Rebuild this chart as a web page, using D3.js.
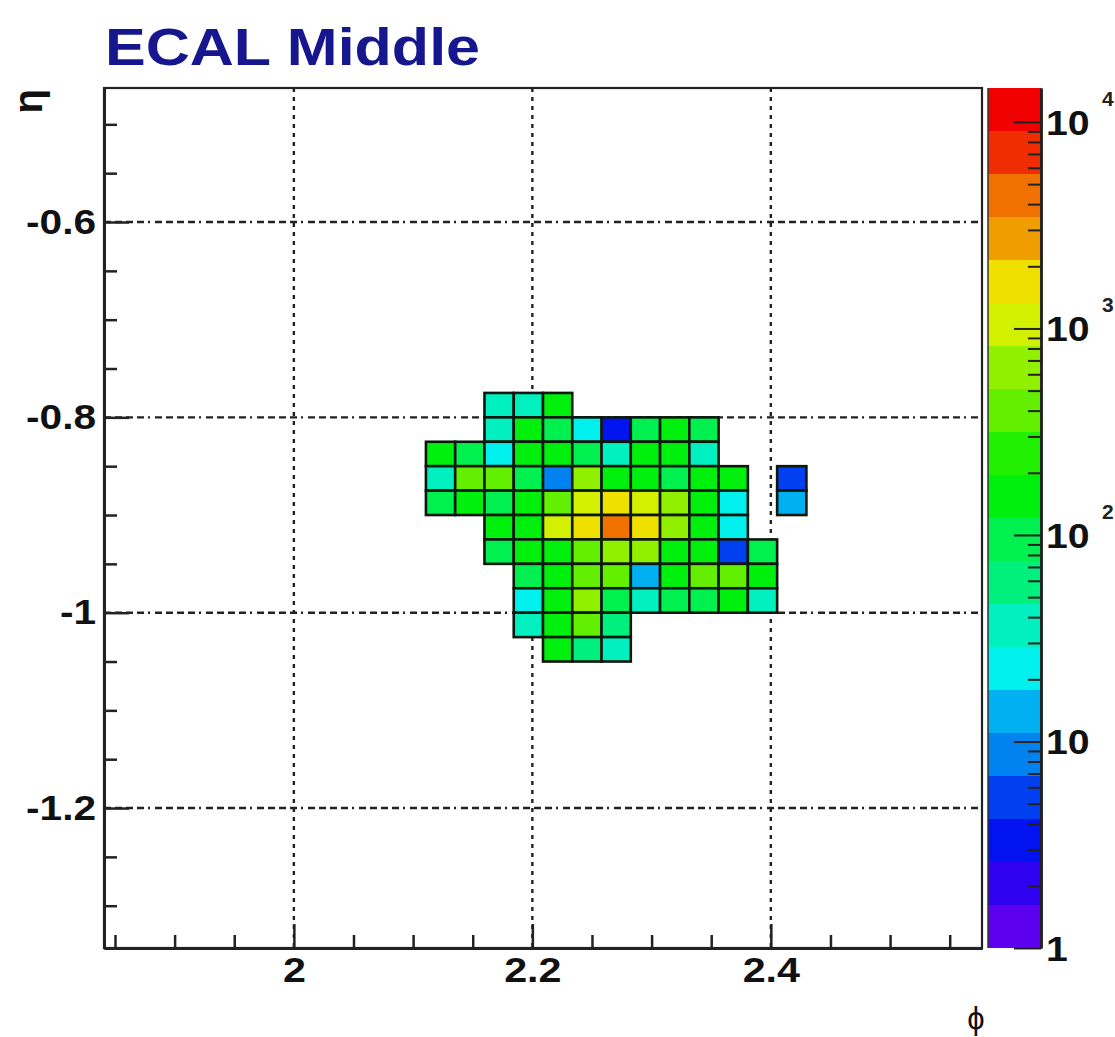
<!DOCTYPE html>
<html>
<head>
<meta charset="utf-8">
<script src="https://cdn.jsdelivr.net/npm/d3@7"></script>
<style>
  body { margin: 0; background: #ffffff; }
  text { font-family: "Liberation Sans", Arial, Helvetica, sans-serif; }
</style>
</head>
<body>
<svg id="chart" width="1115" height="1037"></svg>
<script>
// ECAL middle layer: cell contents binned in eta (rows) and phi (columns)
const PHI_BIN = 2 * Math.PI / 256;
const ETA_BIN = 0.025;

// upper eta edge of every row of cells
const rowEtaTop = [-0.775, -0.8, -0.825, -0.85, -0.875, -0.9, -0.925, -0.95, -0.975, -1.0, -1.025];
// phi-bin index of the first cell of each row
const rowFirstPhiBin = [88, 88, 86, 86, 86, 88, 88, 89, 89, 89, 90];
// contents of consecutive phi bins in each row (null = empty bin)
const rowCounts = [
  [36, 33, 150],
  [38, 165, 92, 22, 3.4, 85, 145, 80],
  [140, 100, 21, 170, 180, 90, 35, 155, 175, 40],
  [34, 420, 350, 105, 8.5, 600, 185, 150, 95, 160, 135, null, 5.2],
  [78, 150, 88, 180, 380, 1000, 1700, 1150, 650, 175, 24, null, 14],
  [190, 170, 1050, 1900, 4400, 1600, 640, 185, 27],
  [100, 190, 185, 430, 560, 540, 188, 180, 5.5, 82],
  [95, 165, 380, 420, 13, 150, 350, 400, 145],
  [23, 175, 620, 85, 38, 78, 110, 190, 40],
  [36, 160, 330, 70],
  [145, 60, 37]
];

// axis ticks and labels
const phiMajorTicks = [2.0, 2.2, 2.4];
const phiTickLabels = ["2", "2.2", "2.4"];
const etaMajorTicks = [-0.6, -0.8, -1.0, -1.2];
const etaTickLabels = ["-0.6", "-0.8", "-1", "-1.2"];
const zMajorTicks = [1, 10, 100, 1000, 10000];
const zTickExponents = [null, null, "2", "3", "4"];
const Z_MIN = 1;
const Z_MAX = 14600;
const N_CONTOURS = 20;
const N_PALETTE = 50;

// flatten rows into cells
const cells = [];
rowCounts.forEach((row, r) => {
  row.forEach((v, k) => {
    if (v == null) return;
    const bin = rowFirstPhiBin[r] + k;
    cells.push({
      phi0: bin * PHI_BIN, phi1: (bin + 1) * PHI_BIN,
      eta1: rowEtaTop[r], eta0: rowEtaTop[r] - ETA_BIN,
      value: v
    });
  });
});

const svg = d3.select("#chart");
const W = 1115, H = 1037;
svg.append("rect").attr("width", W).attr("height", H).attr("fill", "#ffffff");

const frame = { left: 104, right: 982, top: 88, bottom: 948 };
const x = d3.scaleLinear().domain([75 * PHI_BIN, 105 * PHI_BIN]).range([frame.left, frame.right]);
const y = d3.scaleLinear().domain([-1.3433, -0.4628]).range([frame.bottom, frame.top]);
const z = d3.scaleLog().domain([Z_MIN, Z_MAX]).range([frame.bottom, frame.top]);

// rainbow palette (violet -> red), sampled per contour band
function bandColor(j) {
  const i = Math.floor((j + 0.99) * N_PALETTE / N_CONTOURS);
  const hue = 280 - (i + 1) * (280 / N_PALETTE);
  return d3.hsl(hue, 1, 0.47).toString();
}
function valueColor(v) {
  let j = Math.floor(N_CONTOURS * Math.log10(v / Z_MIN) / Math.log10(Z_MAX / Z_MIN));
  j = Math.max(0, Math.min(N_CONTOURS - 1, j));
  return bandColor(j);
}

// widen bold labels a little
function widen(sel, factor) {
  sel.each(function () {
    const w = this.getComputedTextLength();
    d3.select(this).attr("textLength", w * factor).attr("lengthAdjust", "spacingAndGlyphs");
  });
}

// title
svg.append("text")
  .attr("x", 105).attr("y", 65)
  .attr("font-size", 51).attr("font-weight", "bold")
  .attr("fill", "#16168f")
  .attr("textLength", 375).attr("lengthAdjust", "spacingAndGlyphs")
  .text("ECAL Middle");

// grid
const grid = svg.append("g").attr("class", "grid");
grid.selectAll("line.h").data(etaMajorTicks).join("line")
  .attr("class", "h")
  .attr("x1", frame.left).attr("x2", frame.right)
  .attr("y1", d => y(d)).attr("y2", d => y(d))
  .attr("stroke", "#222").attr("stroke-width", 2.4)
  .attr("stroke-dasharray", "7,4,7,4,7,4,7,4,2,5");
grid.selectAll("line.v").data(phiMajorTicks).join("line")
  .attr("class", "v")
  .attr("x1", d => x(d)).attr("x2", d => x(d))
  .attr("y1", frame.top).attr("y2", frame.bottom)
  .attr("stroke", "#222").attr("stroke-width", 2.4)
  .attr("stroke-dasharray", "4,5");

// cells
svg.append("g").attr("class", "cells")
  .selectAll("rect").data(cells).join("rect")
  .attr("x", d => x(d.phi0))
  .attr("y", d => y(d.eta1))
  .attr("width", d => x(d.phi1) - x(d.phi0))
  .attr("height", d => y(d.eta0) - y(d.eta1))
  .attr("fill", d => valueColor(d.value))
  .attr("stroke", "#0c180c").attr("stroke-width", 2.6);

// frame
svg.append("rect")
  .attr("x", frame.left).attr("y", frame.top)
  .attr("width", frame.right - frame.left).attr("height", frame.bottom - frame.top)
  .attr("fill", "none").attr("stroke", "#222").attr("stroke-width", 2.2);

const tickFont = 35;

// x axis
const phiMinor = d3.range(37, 52).map(k => k * 0.05).filter(v => !phiMajorTicks.some(m => Math.abs(m - v) < 1e-9));
const xMinor = svg.append("g").attr("transform", `translate(0,${frame.bottom})`)
  .call(d3.axisBottom(x).tickValues(phiMinor).tickSize(-13).tickSizeOuter(0).tickFormat(""));
const xMajor = svg.append("g").attr("transform", `translate(0,${frame.bottom})`)
  .call(d3.axisBottom(x).tickValues(phiMajorTicks).tickSize(-24).tickSizeOuter(0).tickPadding(9)
    .tickFormat((d, i) => phiTickLabels[i]));

// y axis
const etaMinor = d3.range(-26, -9).map(k => k * 0.05).filter(v => !etaMajorTicks.some(m => Math.abs(m - v) < 1e-9));
const yMinor = svg.append("g").attr("transform", `translate(${frame.left},0)`)
  .call(d3.axisLeft(y).tickValues(etaMinor).tickSize(-13).tickSizeOuter(0).tickFormat(""));
const yMajor = svg.append("g").attr("transform", `translate(${frame.left},0)`)
  .call(d3.axisLeft(y).tickValues(etaMajorTicks).tickSize(-25).tickSizeOuter(0).tickPadding(8)
    .tickFormat((d, i) => etaTickLabels[i]));

[xMinor, xMajor, yMinor, yMajor].forEach(g => {
  g.select(".domain").attr("stroke", "#222").attr("stroke-width", 3);
  g.selectAll(".tick line").attr("stroke", "#222").attr("stroke-width", 2.5);
  g.selectAll(".tick text").attr("font-size", tickFont).attr("font-weight", "bold")
    .attr("fill", "#111").attr("font-family", "'Liberation Sans', Arial, sans-serif");
});
widen(xMajor.selectAll(".tick text"), 1.18);
widen(yMajor.selectAll(".tick text"), 1.16);

// axis titles
svg.append("text")
  .attr("transform", "translate(42,89) rotate(-90)")
  .attr("text-anchor", "end")
  .attr("font-size", 40).attr("font-weight", "bold").attr("fill", "#111")
  .text("η");
svg.append("text")
  .attr("x", 976).attr("y", 1029)
  .attr("text-anchor", "middle")
  .attr("font-size", 31).attr("fill", "#111")
  .text("ϕ");

// colour bar
const bar = { left: 988, right: 1041 };
const bandEdges = d3.range(N_CONTOURS + 1).map(j => Math.pow(Z_MAX / Z_MIN, j / N_CONTOURS) * Z_MIN);
svg.append("g").attr("class", "palette")
  .selectAll("rect").data(d3.range(N_CONTOURS)).join("rect")
  .attr("x", bar.left).attr("width", bar.right - bar.left)
  .attr("y", j => z(bandEdges[j + 1]))
  .attr("height", j => z(bandEdges[j]) - z(bandEdges[j + 1]))
  .attr("fill", j => bandColor(j));
svg.append("line")
  .attr("x1", bar.left).attr("x2", bar.left).attr("y1", frame.top).attr("y2", frame.bottom)
  .attr("stroke", "#333").attr("stroke-width", 1.5);

const zMinor = [];
[1, 10, 100, 1000].forEach(dec => d3.range(2, 10).forEach(m => zMinor.push(m * dec)));
const zMinorAxis = svg.append("g").attr("transform", `translate(${bar.right},0)`)
  .call(d3.axisRight(z).tickValues(zMinor).tickSize(-13).tickSizeOuter(0).tickFormat(""));
const zMajorAxis = svg.append("g").attr("transform", `translate(${bar.right},0)`)
  .call(d3.axisRight(z).tickValues(zMajorTicks).tickSize(-27).tickSizeOuter(0).tickFormat(""));
[zMinorAxis, zMajorAxis].forEach(g => {
  g.select(".domain").attr("stroke", "#222").attr("stroke-width", 2.5);
  g.selectAll(".tick line").attr("stroke", "#222").attr("stroke-width", 2);
});

// colour bar labels: 1, 10, 10^2 ...
const zLabels = svg.append("g").attr("class", "zlabels");
zMajorTicks.forEach((t, i) => {
  const lbl = zLabels.append("text")
    .attr("x", bar.right + 5).attr("y", z(t)).attr("dy", "0.36em")
    .attr("font-size", tickFont).attr("font-weight", "bold").attr("fill", "#111")
    .text(t === 1 ? "1" : "10");
  widen(lbl, 1.12);
  if (zTickExponents[i]) {
    zLabels.append("text")
      .attr("x", bar.right + 61).attr("y", z(t) - 16)
      .attr("font-size", 21).attr("font-weight", "bold").attr("fill", "#222")
      .text(zTickExponents[i]);
  }
});
</script>
</body>
</html>
